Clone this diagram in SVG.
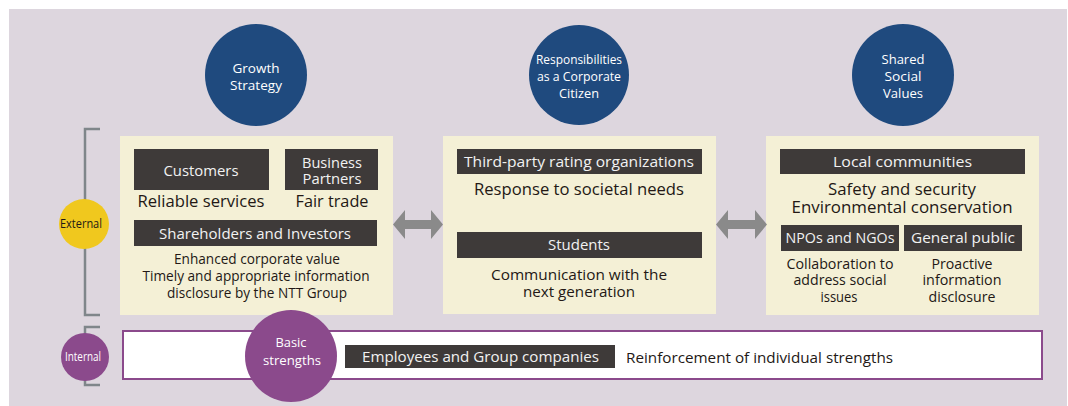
<svg xmlns="http://www.w3.org/2000/svg" width="1068" height="406" viewBox="0 0 1068 406">
<defs>
<style>
.t{font-family:"Open Sans","Noto Sans","Liberation Sans",sans-serif;}
.circ{fill:#1f4a7e;}
.ct{font-size:13px;fill:#ffffff;text-anchor:middle;}
.box{fill:#f4f0d6;}
.lab{fill:#3e3a39;}
.lt{font-size:15px;fill:#f2f2f2;text-anchor:middle;}
.bt{font-size:17px;fill:#231815;text-anchor:middle;}
.st{font-size:14.5px;fill:#231815;text-anchor:middle;}
.sr{font-size:14px;fill:#231815;text-anchor:middle;}
.br{fill:none;stroke:#7f868a;stroke-width:2.5;}
.arr{fill:#8a8a8a;}
</style>
</defs>
<rect x="9" y="9" width="1058" height="397" fill="#ddd6de"/>

<g id="brackets">
<path class="br" d="M100,129 H85 V315 H100"/>
<path class="br" d="M100,327 H85 V385 H100"/>
</g>

<g id="growth-strategy">
<circle class="circ" cx="256" cy="75" r="51"/>
<text class="t ct" x="256" y="73" textLength="47" lengthAdjust="spacingAndGlyphs">Growth</text>
<text class="t ct" x="256" y="90" textLength="52" lengthAdjust="spacingAndGlyphs">Strategy</text>
</g>
<g id="corporate-citizen">
<circle class="circ" cx="579" cy="75" r="50"/>
<text class="t ct" x="579" y="64" textLength="86" lengthAdjust="spacingAndGlyphs">Responsibilities</text>
<text class="t ct" x="579" y="81" textLength="84" lengthAdjust="spacingAndGlyphs">as a Corporate</text>
<text class="t ct" x="579" y="98" textLength="40" lengthAdjust="spacingAndGlyphs">Citizen</text>
</g>
<g id="shared-social-values">
<circle class="circ" cx="903" cy="75" r="51"/>
<text class="t ct" x="903" y="64" textLength="43" lengthAdjust="spacingAndGlyphs">Shared</text>
<text class="t ct" x="903" y="81" textLength="37" lengthAdjust="spacingAndGlyphs">Social</text>
<text class="t ct" x="903" y="98" textLength="40" lengthAdjust="spacingAndGlyphs">Values</text>
</g>

<g id="external">
<circle cx="84" cy="224" r="25" fill="#f0c81e"/>
<text class="t" x="81" y="228" font-size="12" fill="#231815" text-anchor="middle" textLength="42" lengthAdjust="spacingAndGlyphs">External</text>
</g>
<g id="internal">
<circle cx="85" cy="357" r="24" fill="#8b4a8c"/>
<text class="t" x="83" y="361" font-size="12" fill="#ffffff" text-anchor="middle" textLength="36" lengthAdjust="spacingAndGlyphs">Internal</text>
</g>

<g id="left-box">
<rect class="box" x="120" y="136" width="273" height="179"/>
<rect class="lab" x="134" y="149" width="135" height="41"/>
<text class="t lt" x="201" y="176" textLength="75" lengthAdjust="spacingAndGlyphs">Customers</text>
<rect class="lab" x="285" y="149" width="93" height="41"/>
<text class="t lt" x="332" y="168" font-size="14.5" textLength="60" lengthAdjust="spacingAndGlyphs">Business</text>
<text class="t lt" x="332" y="184" font-size="14.5" textLength="59" lengthAdjust="spacingAndGlyphs">Partners</text>
<text class="t bt" x="201" y="207" textLength="127" lengthAdjust="spacingAndGlyphs">Reliable services</text>
<text class="t bt" x="332" y="207" textLength="73" lengthAdjust="spacingAndGlyphs">Fair trade</text>
<rect class="lab" x="134" y="220" width="243" height="26"/>
<text class="t lt" x="255" y="239" textLength="192" lengthAdjust="spacingAndGlyphs">Shareholders and Investors</text>
<text class="t st" x="257" y="264" textLength="166" lengthAdjust="spacingAndGlyphs">Enhanced corporate value</text>
<text class="t st" x="256" y="281" textLength="227" lengthAdjust="spacingAndGlyphs">Timely and appropriate information</text>
<text class="t st" x="257" y="298" textLength="180" lengthAdjust="spacingAndGlyphs">disclosure by the NTT Group</text>
</g>

<g id="middle-box">
<rect class="box" x="443" y="136" width="273" height="178"/>
<rect class="lab" x="457" y="149" width="245" height="25"/>
<text class="t lt" x="579" y="167" textLength="230" lengthAdjust="spacingAndGlyphs">Third-party rating organizations</text>
<text class="t bt" x="579" y="195" textLength="210" lengthAdjust="spacingAndGlyphs">Response to societal needs</text>
<rect class="lab" x="457" y="232" width="245" height="26"/>
<text class="t lt" x="579" y="250" textLength="62" lengthAdjust="spacingAndGlyphs">Students</text>
<text class="t st" x="579" y="280" textLength="176" lengthAdjust="spacingAndGlyphs">Communication with the</text>
<text class="t st" x="579" y="297" textLength="112" lengthAdjust="spacingAndGlyphs">next generation</text>
</g>

<g id="right-box">
<rect class="box" x="766" y="136" width="273" height="179"/>
<rect class="lab" x="780" y="149" width="245" height="25"/>
<text class="t lt" x="902.5" y="167" textLength="139" lengthAdjust="spacingAndGlyphs">Local communities</text>
<text class="t bt" x="902" y="195" font-size="16.5" textLength="148" lengthAdjust="spacingAndGlyphs">Safety and security</text>
<text class="t bt" x="902" y="213" font-size="16.5" textLength="221" lengthAdjust="spacingAndGlyphs">Environmental conservation</text>
<rect class="lab" x="781" y="225" width="118" height="26"/>
<text class="t lt" x="840" y="243" textLength="109" lengthAdjust="spacingAndGlyphs">NPOs and NGOs</text>
<rect class="lab" x="904" y="225" width="118" height="26"/>
<text class="t lt" x="963" y="243" textLength="104" lengthAdjust="spacingAndGlyphs">General public</text>
<text class="t sr" x="840" y="269" textLength="107" lengthAdjust="spacingAndGlyphs">Collaboration to</text>
<text class="t sr" x="840" y="285" textLength="93" lengthAdjust="spacingAndGlyphs">address social</text>
<text class="t sr" x="839" y="302" textLength="37" lengthAdjust="spacingAndGlyphs">issues</text>
<text class="t sr" x="962" y="269" textLength="61" lengthAdjust="spacingAndGlyphs">Proactive</text>
<text class="t sr" x="962" y="285" textLength="79" lengthAdjust="spacingAndGlyphs">information</text>
<text class="t sr" x="962" y="302" textLength="67" lengthAdjust="spacingAndGlyphs">disclosure</text>
</g>

<g id="connectors">
<path class="arr" d="M393,224.5 L405,210 V220 H431 V210 L443,224.5 L431,239 V229 H405 V239 Z"/>
<path class="arr" d="M716,224.5 L728,210 V220 H755 V210 L767,224.5 L755,239 V229 H728 V239 Z"/>
</g>

<g id="internal-box">
<rect x="123" y="331" width="919" height="48" fill="#ffffff" stroke="#8b4a8c" stroke-width="2"/>
<rect class="lab" x="345" y="345" width="270" height="23"/>
<text class="t lt" x="480.5" y="362" textLength="237" lengthAdjust="spacingAndGlyphs">Employees and Group companies</text>
<text class="t" x="626" y="363" font-size="15" fill="#231815" textLength="267" lengthAdjust="spacingAndGlyphs">Reinforcement of individual strengths</text>
</g>
<g id="basic-strengths">
<circle cx="291" cy="356" r="46" fill="#8b4a8c"/>
<text class="t ct" x="291" y="347" textLength="31" lengthAdjust="spacingAndGlyphs">Basic</text>
<text class="t ct" x="292" y="365" textLength="58" lengthAdjust="spacingAndGlyphs">strengths</text>
</g>
</svg>
